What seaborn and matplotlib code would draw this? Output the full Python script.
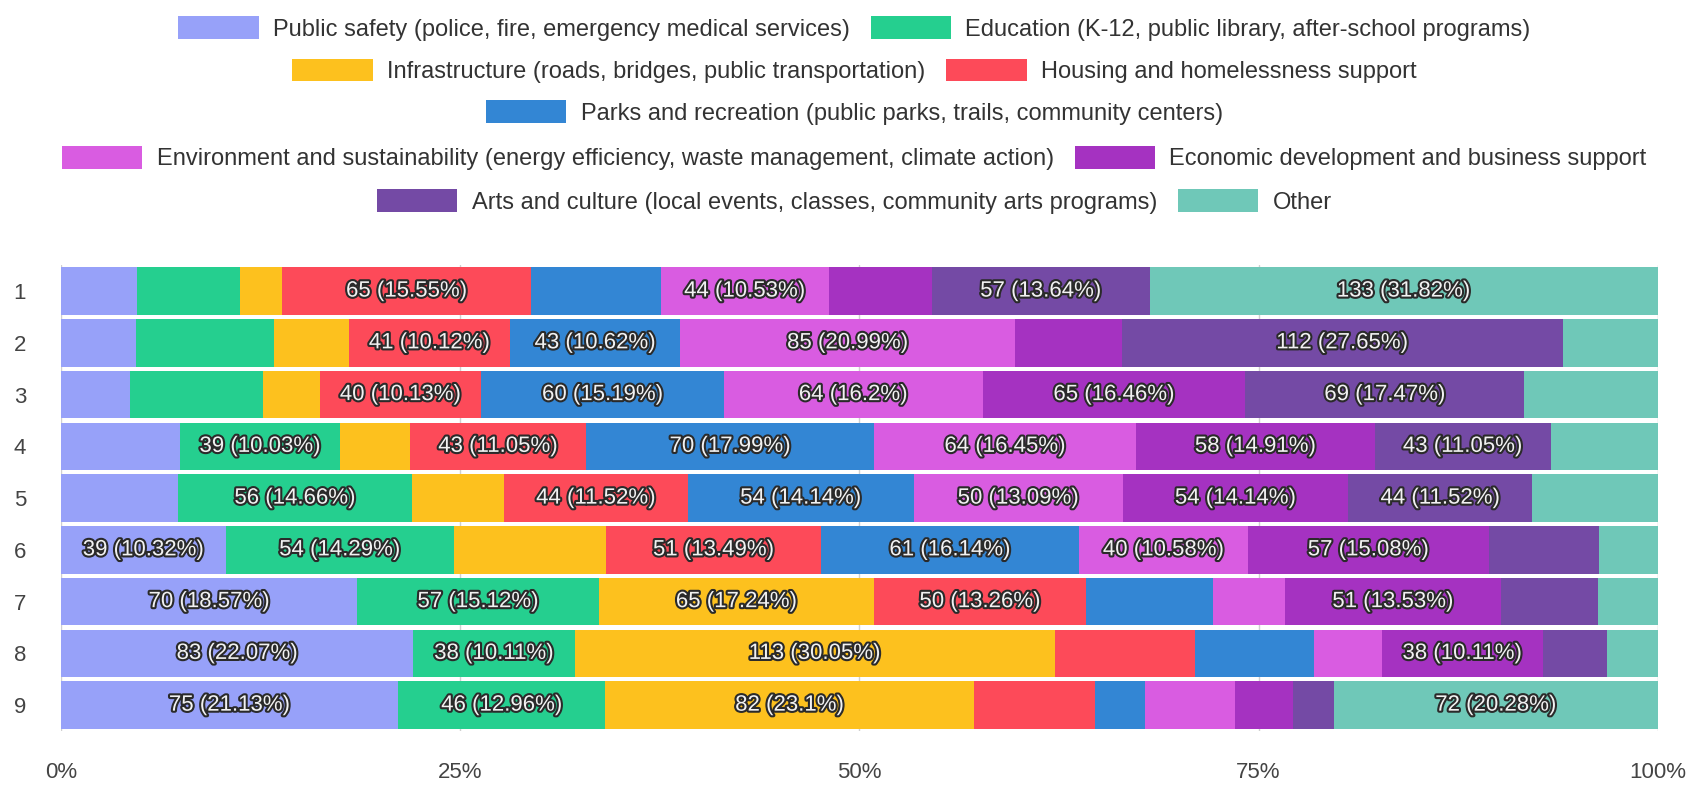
import numpy as np
import pandas as pd
import seaborn as sns
import matplotlib.pyplot as plt
import matplotlib.patheffects as pe
from matplotlib.patches import Patch

sns.set_style('white')
plt.rcParams['font.family'] = ['Liberation Sans', 'DejaVu Sans']

# rows of the survey question (1..9) and the answer categories
rows = ['1', '2', '3', '4', '5', '6', '7', '8', '9']
categories = [
    'Public safety (police, fire, emergency medical services)',
    'Education (K-12, public library, after-school programs)',
    'Infrastructure (roads, bridges, public transportation)',
    'Housing and homelessness support',
    'Parks and recreation (public parks, trails, community centers)',
    'Environment and sustainability (energy efficiency, waste management, climate action)',
    'Economic development and business support',
    'Arts and culture (local events, classes, community arts programs)',
    'Other',
]
colors = ['#97a1f9', '#25cf8f', '#fdc11e', '#fd4a59', '#3386d4',
          '#d95ce1', '#a532c1', '#744aa5', '#6fc8b8']

# counts per row (unlabeled segments)
public_safety = [20, 19, 17, 29, 28, 39, 70, 83, 75]
education = [27, 35, 33, 39, 56, 54, 57, 38, 46]
infrastructure = [11, 19, 14, 17, 22, 36, 65, 113, 82]
housing = [65, 41, 40, 43, 44, 51, 50, 33, 27]
parks = [34, 43, 60, 70, 54, 61, 30, 28, 11]
environment = [44, 85, 64, 64, 50, 40, 17, 16, 20]
economic = [27, 27, 65, 58, 54, 57, 51, 38, 13]
arts = [57, 112, 69, 43, 44, 26, 23, 15, 9]
other = [133, 24, 33, 26, 30, 14, 14, 12, 72]

counts = pd.DataFrame(
    np.array([public_safety, education, infrastructure, housing, parks,
              environment, economic, arts, other]).T,
    index=rows, columns=categories)
pct = counts.div(counts.sum(axis=1), axis=0) * 100
cum = pct.cumsum(axis=1)

fig, ax = plt.subplots(figsize=(17.02, 7.87), dpi=100)
fig.subplots_adjust(left=0.0358, right=0.974, bottom=0.0711, top=0.663)

# stacked 100% bars: draw cumulative widths from the widest down
for cat, col in reversed(list(zip(categories, colors))):
    sns.barplot(x=cum[cat].values, y=rows, order=rows, orient='h', color=col,
                saturation=1, width=0.92, linewidth=0, errorbar=None, ax=ax)

# value labels for segments of 10% or more
for i, r in enumerate(rows):
    for cat in categories:
        p = pct.loc[r, cat]
        if p >= 10:
            xc = cum.loc[r, cat] - p / 2
            ax.text(xc, i, f"{counts.loc[r, cat]} ({round(p, 2):g}%)",
                    ha='center', va='center', fontsize=16, color='#f2f2f2',
                    path_effects=[pe.withStroke(linewidth=3, foreground='#2a2a2a')])

ax.set_xlim(0, 100)
ax.set_xticks([0, 25, 50, 75, 100])
ax.set_xticklabels(['0%', '25%', '50%', '75%', '100%'])
ax.xaxis.grid(True, color='#d0d0d0', linewidth=1)
ax.set_axisbelow(True)
ax.set_xlabel('')
ax.set_ylabel('')
ax.tick_params(axis='x', length=0, pad=22, labelsize=16, labelcolor='#444444')
ax.tick_params(axis='y', length=0, pad=25, labelsize=16, labelcolor='#444444')
for s in ax.spines.values():
    s.set_visible(False)

# legend laid out in centered rows like the original
legend_rows = [[0, 1], [2, 3], [4], [5, 6], [7, 8]]
legend_y = [0.964, 0.910, 0.857, 0.799, 0.744]
for idx, y in zip(legend_rows, legend_y):
    handles = [Patch(facecolor=colors[k], edgecolor='none') for k in idx]
    labels = [categories[k] for k in idx]
    fig.legend(handles, labels, loc='center', bbox_to_anchor=(0.502, y),
               ncol=len(idx), frameon=False, fontsize=17, handlelength=3.4,
               handleheight=1.1, handletextpad=0.6, columnspacing=0.9,
               labelcolor='#333333', borderaxespad=0, borderpad=0)

fig.savefig('out.png', dpi=100)
